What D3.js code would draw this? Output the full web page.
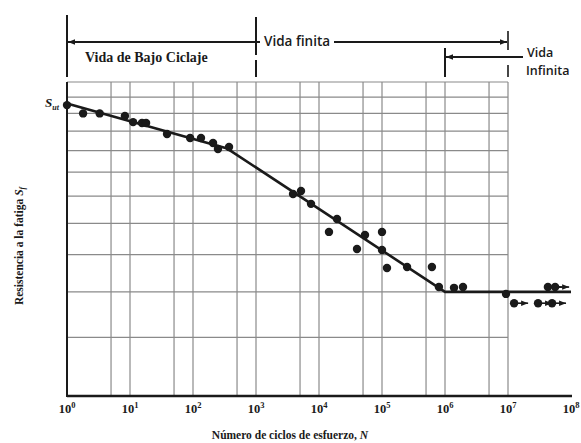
<!DOCTYPE html>
<html>
<head>
<meta charset="utf-8">
<script src="https://cdn.jsdelivr.net/npm/d3@7"></script>
<style>
  html, body { margin: 0; padding: 0; background: #fff; }
  svg { display: block; }
</style>
</head>
<body>
<div id="chart"></div>
<script>
const width = 581, height = 443;

// decades shown on the N axis (exponents)
const decades = [0, 1, 2, 3, 4, 5, 6, 7, 8];
// vertical grid lines (cycles)
const gridN = [5, 10, 50, 100, 500, 1e3, 5e3, 1e4, 5e4, 1e5, 5e5, 1e6, 5e6, 1e7];
// horizontal grid lines (strength)
const gridS = [40, 50, 60, 70, 80, 90, 100, 110, 120, 130, 140];

// S-N curve
const curveN = [1, 350, 1e6, 1e8];
const curveS = [126, 101, 50, 50];

// test points
const testN = [1, 1.8, 3.3, 8.3, 11.2, 15.5, 18, 38.7, 90, 134, 208, 249, 373,
  3870, 5180, 7470, 19300, 14400, 53700, 1e5, 40100, 1e5, 1.2e5, 2.5e5, 6.2e5,
  8e5, 1.39e6, 1.93e6, 9.3e6];
const testS = [125, 120, 120, 118.5, 115, 114.5, 114.5, 108.5, 106.4, 106.4, 103.8, 100.8, 101.8,
  80.8, 82, 77, 71.5, 67.1, 66.1, 67.1, 61.7, 61.4, 56.2, 56.5, 56.5,
  51.2, 51, 51.2, 49.5];

// run-outs (no failure)
const runoutN = [1.25e7, 3e7, 5e7, 4.3e7, 5.6e7];
const runoutS = [47.3, 47.3, 47.3, 51.2, 51.2];

// life regions: [from N, to N]
const lowCycle = [1, 1e3];
const finiteLife = [1, 1e7];
const infiniteLife = [1e6, 1e7];

const ink = '#1a1a1a';
const gridColor = '#8a8a8a';
const serif = '"Liberation Serif", "DejaVu Serif", serif';
const sans = '"Open Sans", "Noto Sans", sans-serif';

const svg = d3.select('#chart')
  .append('svg')
  .attr('width', width)
  .attr('height', height);

const x = d3.scaleLog().domain([1, 1e8]).range([67, 571]);
const y = d3.scaleLog().domain([30, 140]).range([396, 82]);

const defs = svg.append('defs');
defs.append('marker')
  .attr('id', 'arrow')
  .attr('viewBox', '0 0 10 10')
  .attr('refX', 10).attr('refY', 5)
  .attr('markerWidth', 9).attr('markerHeight', 7)
  .attr('markerUnits', 'userSpaceOnUse')
  .attr('orient', 'auto-start-reverse')
  .append('path')
  .attr('d', 'M0,1 L10,5 L0,9 Z')
  .attr('fill', ink);

// grid
svg.append('g')
  .selectAll('line')
  .data(gridN)
  .join('line')
  .attr('x1', d => x(d)).attr('x2', d => x(d))
  .attr('y1', y(30)).attr('y2', y(140))
  .attr('stroke', gridColor)
  .attr('stroke-width', 1.2);

svg.append('g')
  .selectAll('line')
  .data(gridS)
  .join('line')
  .attr('x1', x(1)).attr('x2', x(1e7))
  .attr('y1', d => y(d)).attr('y2', d => y(d))
  .attr('stroke', gridColor)
  .attr('stroke-width', 1.2);

// axes
svg.append('line')
  .attr('x1', x(1)).attr('x2', x(1e8) + 1)
  .attr('y1', y(30)).attr('y2', y(30))
  .attr('stroke', ink).attr('stroke-width', 2.5);
svg.append('line')
  .attr('x1', x(1)).attr('x2', x(1))
  .attr('y1', y(140)).attr('y2', y(30) + 1)
  .attr('stroke', ink).attr('stroke-width', 2);

// tick labels 10^n
const tickText = svg.append('g')
  .selectAll('text')
  .data(decades)
  .join('text')
  .attr('x', d => x(Math.pow(10, d)))
  .attr('y', 413)
  .attr('text-anchor', 'middle')
  .attr('font-family', serif)
  .attr('font-weight', 'bold')
  .attr('font-size', 12.5)
  .attr('fill', ink);
tickText.append('tspan').text('10');
tickText.append('tspan')
  .attr('dy', -5)
  .attr('font-size', 8.5)
  .text(d => d);

svg.append('text')
  .attr('x', 290).attr('y', 439)
  .attr('text-anchor', 'middle')
  .attr('font-family', serif)
  .attr('font-weight', 'bold')
  .attr('font-size', 11.5)
  .attr('fill', ink)
  .html('Número de ciclos de esfuerzo, <tspan font-style="italic">N</tspan>');

const yTitle = svg.append('text')
  .attr('transform', 'translate(23,246) rotate(-90)')
  .attr('text-anchor', 'middle')
  .attr('font-family', serif)
  .attr('font-weight', 'bold')
  .attr('font-size', 11.5)
  .attr('fill', ink);
yTitle.append('tspan').text('Resistencia a la fatiga  ');
yTitle.append('tspan').attr('font-style', 'italic').text('S');
yTitle.append('tspan').attr('font-size', 7.5).attr('dy', 2).attr('font-style', 'italic').text('f');

// S_ut label
const sut = svg.append('text')
  .attr('x', 45).attr('y', y(curveS[0]) + 4)
  .attr('font-family', serif)
  .attr('font-weight', 'bold')
  .attr('font-style', 'italic')
  .attr('font-size', 13)
  .attr('fill', ink);
sut.append('tspan').text('S');
sut.append('tspan').attr('font-size', 8).attr('dy', 3).text('ut');

// S-N curve
const line = d3.line()
  .x(d => x(d[0]))
  .y(d => y(d[1]));

svg.append('path')
  .datum(d3.zip(curveN, curveS))
  .attr('d', line)
  .attr('fill', 'none')
  .attr('stroke', ink)
  .attr('stroke-width', 2.6)
  .attr('stroke-linejoin', 'round');

// test points
svg.append('g')
  .selectAll('circle')
  .data(d3.zip(testN, testS))
  .join('circle')
  .attr('cx', d => x(d[0]))
  .attr('cy', d => y(d[1]))
  .attr('r', 4.2)
  .attr('fill', ink);

// run-outs with arrows
const runouts = svg.append('g')
  .selectAll('g')
  .data(d3.zip(runoutN, runoutS))
  .join('g');
runouts.append('circle')
  .attr('cx', d => x(d[0]))
  .attr('cy', d => y(d[1]))
  .attr('r', 4.2)
  .attr('fill', ink);
runouts.append('line')
  .attr('x1', d => x(d[0]))
  .attr('x2', d => x(d[0]) + 14)
  .attr('y1', d => y(d[1]))
  .attr('y2', d => y(d[1]))
  .attr('stroke', ink)
  .attr('stroke-width', 1.6)
  .attr('marker-end', 'url(#arrow)');

// life regions at the top
const ann = svg.append('g')
  .attr('stroke', ink)
  .attr('fill', 'none');

ann.append('line')
  .attr('x1', x(lowCycle[0])).attr('x2', x(lowCycle[0]))
  .attr('y1', 15).attr('y2', 77)
  .attr('stroke-width', 2);
ann.append('line')
  .attr('x1', x(lowCycle[1])).attr('x2', x(lowCycle[1]))
  .attr('y1', 17).attr('y2', 77)
  .attr('stroke-width', 2)
  .attr('stroke-dasharray', '38,5,30');
ann.append('line')
  .attr('x1', x(finiteLife[1])).attr('x2', x(finiteLife[1]))
  .attr('y1', 31).attr('y2', 77)
  .attr('stroke-width', 1.6)
  .attr('stroke-dasharray', '19,15,12');
ann.append('line')
  .attr('x1', x(infiniteLife[0])).attr('x2', x(infiniteLife[0]))
  .attr('y1', 48).attr('y2', 77)
  .attr('stroke-width', 2);

// finite life arrow, split by its label
ann.append('line')
  .attr('x1', x(lowCycle[1]) + 4).attr('x2', x(finiteLife[0]) + 1)
  .attr('y1', 42).attr('y2', 42)
  .attr('stroke-width', 1.8)
  .attr('marker-end', 'url(#arrow)');
ann.append('line')
  .attr('x1', 334).attr('x2', x(finiteLife[1]) - 1)
  .attr('y1', 42).attr('y2', 42)
  .attr('stroke-width', 1.8)
  .attr('marker-end', 'url(#arrow)');
ann.append('line')
  .attr('x1', x(lowCycle[1]) - 2).attr('x2', x(lowCycle[1]) + 4)
  .attr('y1', 42).attr('y2', 42)
  .attr('stroke-width', 1.8);

// infinite life arrow
ann.append('line')
  .attr('x1', 523).attr('x2', x(infiniteLife[0]) + 1)
  .attr('y1', 57).attr('y2', 57)
  .attr('stroke-width', 1.8)
  .attr('marker-end', 'url(#arrow)');

svg.append('text')
  .attr('x', 85).attr('y', 62)
  .attr('font-family', serif)
  .attr('font-weight', 'bold')
  .attr('font-size', 14)
  .attr('fill', ink)
  .text('Vida de Bajo Ciclaje');

svg.append('text')
  .attr('x', 264).attr('y', 46)
  .attr('font-family', sans)
  .attr('font-weight', 600)
  .attr('font-size', 13.5)
  .attr('fill', ink)
  .text('Vida finita');

svg.append('text')
  .attr('x', 527).attr('y', 57)
  .attr('font-family', sans)
  .attr('font-weight', 600)
  .attr('font-size', 12.5)
  .attr('fill', ink)
  .text('Vida');
svg.append('text')
  .attr('x', 526).attr('y', 75)
  .attr('font-family', sans)
  .attr('font-weight', 600)
  .attr('font-size', 12.5)
  .attr('fill', ink)
  .text('Infinita');
</script>
</body>
</html>
